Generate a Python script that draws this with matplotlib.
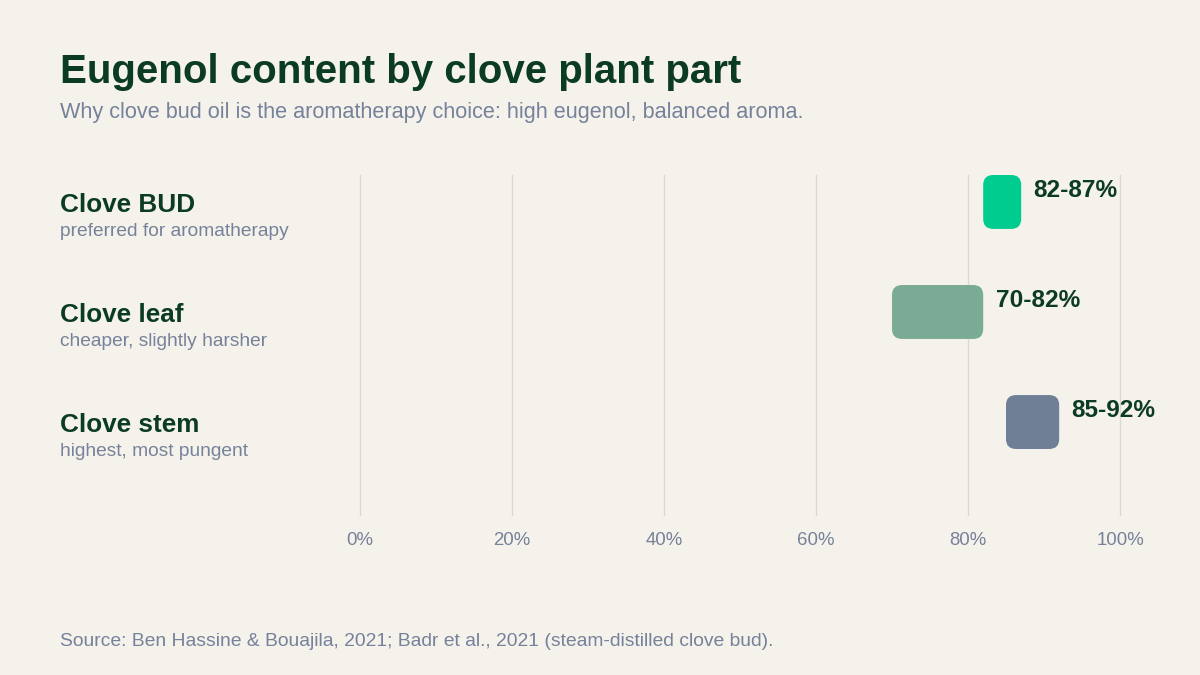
"""Eugenol content ranges by clove plant part, drawn as rounded floating bars."""

import matplotlib
matplotlib.use("Agg")
import matplotlib.pyplot as plt
from matplotlib.patches import FancyBboxPatch

###Data
parts = ["Clove BUD", "Clove leaf", "Clove stem"]
notes = ["preferred for aromatherapy", "cheaper, slightly harsher", "highest, most pungent"]
low = [82, 70, 85]
high = [87, 82, 92]
ticks = [0, 20, 40, 60, 80, 100]
tick_labels = ["0%", "20%", "40%", "60%", "80%", "100%"]

###Style
bg = "#f5f2ec"
dark = "#0b3a25"
grey = "#76829a"
grid_col = "#dcd8d1"
bar_cols = ["#00cc8f", "#7aab95", "#6e7f96"]

plt.rcParams["font.family"] = ["Liberation Sans", "DejaVu Sans"]

fig = plt.figure(figsize=(12, 6.75), dpi=100, facecolor=bg)
ax = fig.add_axes([0.3, 1 - 515/675, 760/1200, (515 - 175)/675])
ax.set_facecolor(bg)

bar_h = 0.49
ax.set_xlim(0, 100)
ax.set_ylim(2.845, -0.245)

#px per data unit, used so the corners come out round
px_x = 760/100
px_y = 110
r = 10
for i in range(len(parts)):
    box = FancyBboxPatch((low[i], i - bar_h/2), high[i] - low[i], bar_h,
                         boxstyle="round,pad=0,rounding_size=%f" % (r/px_x),
                         mutation_aspect=px_x/px_y,
                         fc=bar_cols[i], ec="none", zorder=3)
    ax.add_patch(box)
    ax.annotate("%d-%d%%" % (low[i], high[i]), xy=(high[i], i), xytext=(9, 8.5),
                textcoords="offset points", ha="left", va="center",
                fontsize=17.6, fontweight="bold", color=dark, zorder=4)
    #row labels sit at the left edge of the figure
    ax.annotate(parts[i], xy=(0.05, i), xycoords=("figure fraction", "data"),
                xytext=(0, -7.2), textcoords="offset points", va="baseline",
                fontsize=18.8, fontweight="bold", color=dark, annotation_clip=False)
    ax.annotate(notes[i], xy=(0.05, i), xycoords=("figure fraction", "data"),
                xytext=(0, -24.5), textcoords="offset points", va="baseline",
                fontsize=13.8, color=grey, annotation_clip=False)

ax.set_xticks(ticks)
ax.set_xticklabels(tick_labels)
ax.set_yticks([])
ax.tick_params(axis="x", length=0, pad=12, labelsize=13.4, labelcolor=grey)
ax.grid(axis="x", color=grid_col, linewidth=1, zorder=0)
#the 100% line sits on the axes edge, don't let it get clipped
for gl in ax.get_xgridlines():
    gl.set_clip_on(False)
for s in ax.spines.values():
    s.set_visible(False)

fig.text(0.05, 1 - 83/675, "Eugenol content by clove plant part", fontsize=29,
         fontweight="bold", color=dark, va="baseline")
fig.text(0.05, 1 - 118/675, "Why clove bud oil is the aromatherapy choice: high eugenol, balanced aroma.",
         fontsize=15.6, color=grey, va="baseline")
fig.text(0.05, 1 - 646/675, "Source: Ben Hassine & Bouajila, 2021; Badr et al., 2021 (steam-distilled clove bud).",
         fontsize=13.9, color=grey, va="baseline")

fig.savefig("out.png", dpi=100, facecolor=bg)
